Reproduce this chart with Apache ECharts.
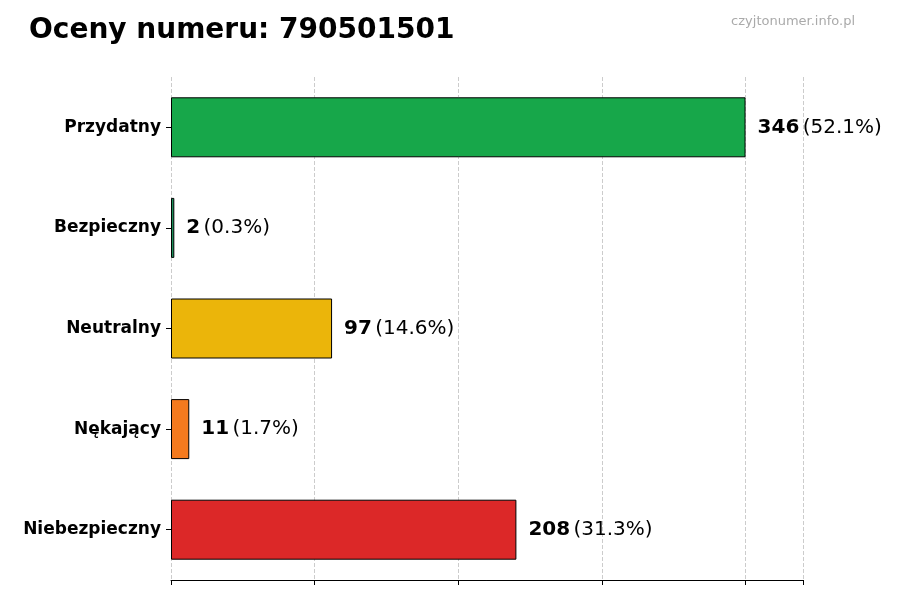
<!DOCTYPE html>
<html><head><meta charset="utf-8">
<script src="https://cdn.jsdelivr.net/npm/echarts@6/dist/echarts.min.js"></script>
<style>html,body{margin:0;padding:0}#c{width:900px;height:600px}</style></head>
<body><div id="c"></div>
<script>
const categories = ['Niebezpieczny','Nękający','Neutralny','Bezpieczny','Przydatny'];
const values = [208, 11, 97, 2, 346];
const percents = ['31.3%','1.7%','14.6%','0.3%','52.1%'];
const colors = ['#dc2828','#f47a1e','#ebb50a','#1a8f5a','#17a74a'];
const maxVal = 346;
const chart = echarts.init(document.getElementById('c'));
chart.setOption({
  animation:false,
  title:[{text:'Oceny numeru: 790501501',left:24,top:12,textStyle:{fontSize:28,fontWeight:'bold',color:'#000',fontFamily:'DejaVu Sans'}},
         {text:'czyjtonumer.info.pl',right:40,top:10,textStyle:{fontSize:13,fontWeight:'normal',color:'#aaa',fontFamily:'DejaVu Sans'}}],
  grid:{left:171,right:97,top:77,bottom:20},
  xAxis:{type:'value',min:0,max:maxVal*1.1,interval:maxVal/4,
    axisLabel:{show:false},axisLine:{show:true,lineStyle:{color:'#000'}},
    axisTick:{show:true,length:5,lineStyle:{color:'#000'}},
    splitLine:{show:true,lineStyle:{type:'dashed',color:'#ccc'}}},
  yAxis:{type:'category',data:categories,
    axisLine:{show:false},axisTick:{show:true,length:5,alignWithLabel:true,lineStyle:{color:'#000'}},
    axisLabel:{fontSize:17,fontWeight:'bold',color:'#000',fontFamily:'DejaVu Sans',margin:10}},
  series:[{type:'bar',barWidth:60,
    data:values.map((v,i)=>({value:v,itemStyle:{color:colors[i],borderColor:'#000',borderWidth:1}})),
    label:{show:true,position:'right',distance:12,
      formatter:p=>'{b|'+p.value+'} {n|('+percents[p.dataIndex]+')}',
      rich:{b:{fontSize:20,fontWeight:'bold',color:'#000',fontFamily:'DejaVu Sans'},
            n:{fontSize:20,color:'#000',fontFamily:'DejaVu Sans'}}}}]
});
</script></body></html>
